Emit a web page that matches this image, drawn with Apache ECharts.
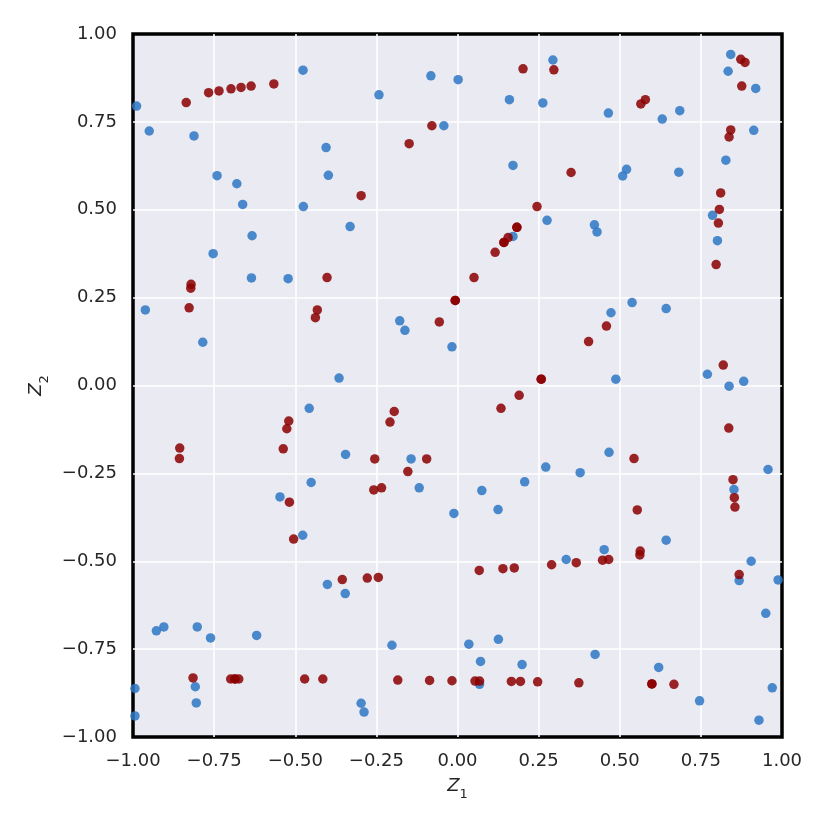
<!DOCTYPE html>
<html>
<head>
<meta charset="utf-8">
<script src="https://cdn.jsdelivr.net/npm/echarts@6/dist/echarts.min.js"></script>
<style>
  html, body { margin: 0; padding: 0; background: #fff; }
  #chart { width: 830px; height: 830px; }
</style>
</head>
<body>
<div id="chart"></div>
<script>
// latent coordinates
const blueZ1 = [-0.989, -0.950, -0.812, -0.476, -0.405, -0.398, -0.741, -0.680, -0.662, -0.475,
  -0.331, -0.633, -0.753, -0.242, -0.082, 0.002, -0.042, 0.160, 0.263, 0.294,
  0.171, 0.276, 0.171, 0.842, 0.834, 0.919, 0.465, 0.631, 0.685, 0.913,
  0.827, 0.521, 0.509, 0.682, 0.786, 0.422, 0.430, 0.801, -0.635, -0.522,
  -0.962, -0.785, -0.365, -0.457, -0.345, -0.451, -0.547, -0.178, -0.162, -0.017,
  -0.143, 0.207, 0.272, -0.118, 0.075, 0.538, 0.643, 0.473, 0.770, 0.488,
  0.837, 0.882, 0.467, 0.378, 0.957, 0.852, -0.477, -0.401, -0.346, -0.928,
  -0.905, -0.802, -0.761, -0.619, -0.808, -0.805, -0.994, -0.994, -0.011, 0.125,
  0.335, -0.202, 0.035, 0.126, 0.071, 0.199, 0.068, -0.297, -0.288, 0.643,
  0.452, 0.905, 0.868, 0.988, 0.950, 0.424, 0.620, 0.746, 0.970, 0.929]
const blueZ2 = [0.795, 0.724, 0.710, 0.897, 0.677, 0.598, 0.597, 0.574, 0.515, 0.509,
  0.452, 0.426, 0.375, 0.827, 0.881, 0.870, 0.739, 0.813, 0.804, 0.926,
  0.626, 0.470, 0.424, 0.942, 0.894, 0.845, 0.775, 0.758, 0.782, 0.726,
  0.641, 0.615, 0.596, 0.607, 0.484, 0.457, 0.437, 0.412, 0.306, 0.304,
  0.215, 0.123, 0.021, -0.065, -0.196, -0.276, -0.317, 0.184, 0.157, 0.110,
  -0.209, -0.274, -0.232, -0.291, -0.299, 0.236, 0.219, 0.207, 0.032, 0.018,
  -0.002, 0.012, -0.190, -0.248, -0.239, -0.296, -0.426, -0.566, -0.592, -0.698,
  -0.687, -0.687, -0.718, -0.711, -0.857, -0.903, -0.862, -0.940, -0.364, -0.353,
  -0.495, -0.739, -0.736, -0.722, -0.785, -0.794, -0.850, -0.904, -0.929, -0.440,
  -0.467, -0.500, -0.555, -0.553, -0.648, -0.765, -0.802, -0.897, -0.860, -0.952]

const redZ1 = [-0.836, -0.767, -0.735, -0.698, -0.667, -0.636, -0.566, 0.202, 0.297, -0.149,
  -0.079, -0.297, 0.350, 0.245, 0.183, 0.183, 0.156, 0.143, 0.143, 0.116,
  0.873, 0.886, 0.876, 0.565, 0.579, 0.842, 0.837, 0.811, 0.807, 0.804,
  0.797, -0.821, -0.822, -0.402, -0.827, -0.432, -0.438, -0.520, -0.526, -0.856,
  -0.857, -0.537, -0.518, 0.051, -0.007, -0.007, -0.056, 0.258, 0.258, 0.190,
  0.134, -0.195, -0.208, -0.255, -0.095, -0.153, -0.258, -0.234, 0.459, 0.404,
  0.819, 0.836, 0.544, 0.849, 0.853, 0.855, -0.505, -0.355, -0.815, -0.699,
  -0.686, -0.686, -0.674, -0.471, -0.415, -0.278, -0.244, 0.067, 0.140, 0.175,
  0.290, -0.184, -0.086, -0.017, 0.054, 0.068, 0.166, 0.194, 0.247, 0.374,
  0.554, 0.366, 0.447, 0.466, 0.563, 0.562, 0.868, 0.599, 0.599, 0.667]
const redZ2 = [0.805, 0.833, 0.838, 0.844, 0.848, 0.852, 0.858, 0.901, 0.898, 0.688,
  0.739, 0.540, 0.606, 0.509, 0.450, 0.450, 0.421, 0.407, 0.407, 0.379,
  0.928, 0.919, 0.852, 0.801, 0.813, 0.727, 0.707, 0.548, 0.501, 0.462,
  0.344, 0.288, 0.277, 0.307, 0.221, 0.215, 0.193, -0.101, -0.123, -0.178,
  -0.208, -0.180, -0.332, 0.307, 0.242, 0.242, 0.181, 0.018, 0.018, -0.028,
  -0.065, -0.074, -0.104, -0.209, -0.209, -0.245, -0.297, -0.291, 0.169, 0.125,
  0.058, -0.121, -0.208, -0.268, -0.319, -0.346, -0.437, -0.552, -0.832, -0.835,
  -0.835, -0.835, -0.835, -0.835, -0.835, -0.548, -0.546, -0.526, -0.521, -0.519,
  -0.510, -0.838, -0.839, -0.840, -0.841, -0.841, -0.842, -0.842, -0.843, -0.846,
  -0.354, -0.504, -0.497, -0.495, -0.471, -0.482, -0.538, -0.849, -0.849, -0.850]

const tickStep = 0.25

function pairs(xs, ys) {
  return xs.map((x, i) => [x, ys[i]])
}

function tickLabel(v) {
  return v.toFixed(2).replace('-', '\u2212')
}

const chart = echarts.init(document.getElementById('chart'))

const axisText = { fontFamily: 'DejaVu Sans', fontSize: 18, color: '#262626' }
const nameRich = {
  z: { fontFamily: 'DejaVu Sans', fontSize: 18, fontStyle: 'italic', color: '#262626' },
  s: { fontFamily: 'DejaVu Sans', fontSize: 13, color: '#262626', verticalAlign: 'bottom', padding: [0, 0, -6, 0] }
}
// white grid, but keep the edge lines off so the black frame stays thick
const whiteGrid = { showMinLine: false, showMaxLine: false, lineStyle: { color: '#ffffff', width: 1.6 } }

chart.setOption({
  animation: false,
  backgroundColor: '#ffffff',
  grid: {
    left: 133,
    right: 48,
    top: 34,
    bottom: 93,
    show: true,
    backgroundColor: '#EAEAF2',
    borderColor: '#000000',
    borderWidth: 3.5
  },
  xAxis: {
    type: 'value',
    min: -1,
    max: 1,
    interval: tickStep,
    name: '{z|Z}{s|1}',
    nameLocation: 'middle',
    nameGap: 40,
    nameTextStyle: { rich: nameRich },
    axisLine: { show: false },
    axisTick: { show: false },
    axisLabel: Object.assign({ margin: 15, formatter: tickLabel }, axisText),
    splitLine: whiteGrid
  },
  yAxis: {
    type: 'value',
    min: -1,
    max: 1,
    interval: tickStep,
    name: '{z|Z}{s|2}',
    nameLocation: 'middle',
    nameGap: 86,
    nameRotate: 90,
    nameTextStyle: { rich: nameRich },
    axisLine: { show: false },
    axisTick: { show: false },
    axisLabel: Object.assign({ margin: 16, formatter: tickLabel }, axisText),
    splitLine: whiteGrid
  },
  series: [
    {
      name: 'blue',
      type: 'scatter',
      data: pairs(blueZ1, blueZ2),
      symbolSize: 9.5,
      itemStyle: { color: '#2e77c5', opacity: 0.85 }
    },
    {
      name: 'red',
      type: 'scatter',
      data: pairs(redZ1, redZ2),
      symbolSize: 9.5,
      itemStyle: { color: '#8b0000', opacity: 0.85 }
    }
  ]
})
</script>
</body>
</html>
